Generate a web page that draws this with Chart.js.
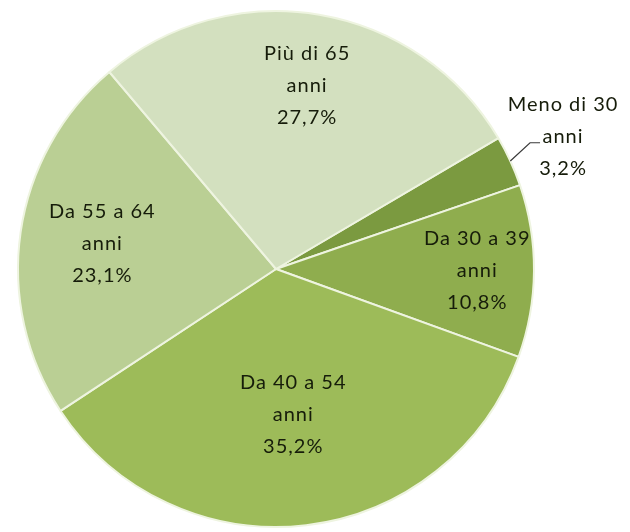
<!DOCTYPE html>
<html>
<head>
<meta charset="utf-8">
<script src="https://cdn.jsdelivr.net/npm/chart.js@4"></script>
<style>
  html, body { margin: 0; padding: 0; background: #fff; }
  #wrap { width: 630px; height: 532px; }
</style>
</head>
<body>
<div id="wrap"><canvas id="torta" width="630" height="532"></canvas></div>
<script>
// fasce di eta e quote (%)
const categorie = ['Meno di 30 anni', 'Da 30 a 39 anni', 'Da 40 a 54 anni', 'Da 55 a 64 anni', 'Più di 65 anni'];
const righeEtichetta = [
    ['Meno di 30', 'anni'],
    ['Da 30 a 39', 'anni'],
    ['Da 40 a 54', 'anni'],
    ['Da 55 a 64', 'anni'],
    ['Più di 65', 'anni']
];
const quote = [3.2, 10.8, 35.2, 23.1, 27.7];

//colori delle fette
const colori = ['#7b9a40', '#8fad4e', '#9dbb59', '#bacf94', '#d3e0bf'];
// distanza delle etichette dal centro, in frazioni del raggio
const distEtichetta = [1.225, 0.78, 0.57, 0.68, 0.72];

const etichettePlugin = {
    id: 'etichette',
    afterDatasetsDraw(chart) {
        const ctx = chart.ctx;
        const meta = chart.getDatasetMeta(0);
        ctx.save();
        ctx.font = '20px Lato';
        ctx.letterSpacing = '1px';
        ctx.fillStyle = '#161c0a';
        ctx.textAlign = 'center';
        ctx.textBaseline = 'middle';
        meta.data.forEach(function (arc, i) {
            const p = arc.getProps(['x', 'y', 'startAngle', 'endAngle', 'outerRadius'], true);
            const mid = (p.startAngle + p.endAngle) / 2;
            const f = distEtichetta[i];
            const px = p.x + Math.cos(mid) * p.outerRadius * f;
            const py = p.y + Math.sin(mid) * p.outerRadius * f;
            const righe = righeEtichetta[i].concat([quote[i].toFixed(1).replace('.', ',') + '%']);
            righe.forEach(function (t, k) {
                ctx.fillText(t, px, py + (k - 1) * 32);
            });
            if (f > 1) {
                // linea guida per l'etichetta esterna
                ctx.strokeStyle = '#3a3a3a';
                ctx.lineWidth = 1.2;
                ctx.beginPath();
                ctx.moveTo(p.x + Math.cos(mid) * p.outerRadius, p.y + Math.sin(mid) * p.outerRadius);
                ctx.lineTo(px - 33, py + 6);
                ctx.lineTo(px - 23, py + 6);
                ctx.stroke();
            }
        });
        ctx.restore();
    }
};

const ctxT = document.getElementById('torta').getContext('2d');
new Chart(ctxT, {
    type: 'pie',
    data: {
        labels: categorie,
        datasets: [{
            data: quote,
            backgroundColor: colori,
            borderColor: '#eef4e0',
            borderWidth: 2
        }]
    },
    options: {
        responsive: false,
        devicePixelRatio: 1,
        animation: false,
        rotation: 59.5,
        layout: {
            padding: { left: 16, right: 94, top: 10, bottom: 4 }
        },
        plugins: {
            legend: { display: false },
            tooltip: { enabled: false }
        }
    },
    plugins: [etichettePlugin]
});
</script>
</body>
</html>
